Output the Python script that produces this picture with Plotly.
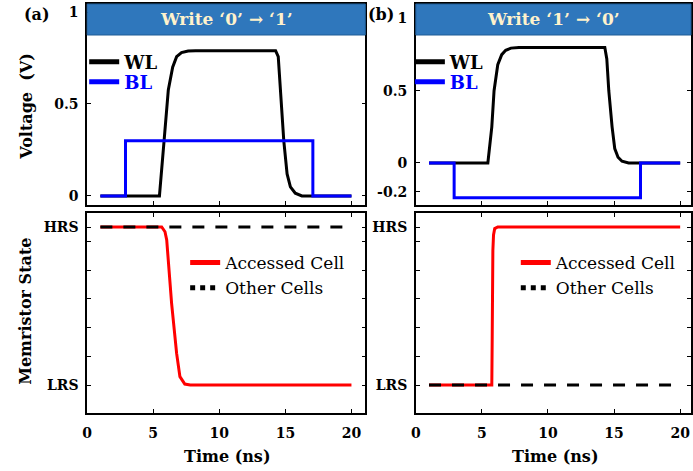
import plotly.graph_objects as go

# ---------------- data ----------------
# (a) Write '0' -> '1'
t_wl_a = [1.0, 5.47, 5.82, 6.14, 6.47, 6.77, 7.14, 7.64, 8.2, 14.26, 14.46, 14.63, 14.88, 15.13, 15.38, 15.75, 16.25, 20.0]
v_wl_a = [0.0, 0.0, 0.30, 0.576, 0.70, 0.757, 0.779, 0.788, 0.79, 0.79, 0.757, 0.576, 0.30, 0.12, 0.05, 0.015, 0.0, 0.0]
t_bl_a = [1.0, 2.9, 2.9, 17.08, 17.08, 20.0]
v_bl_a = [0.0, 0.0, 0.30, 0.30, 0.0, 0.0]

t_acc_a = [1.0, 5.64, 5.89, 6.02, 6.39, 6.77, 7.02, 7.39, 7.8, 20.0]
s_acc_a = [1.0, 1.0, 0.97, 0.918, 0.517, 0.20, 0.053, 0.006, 0.0, 0.0]
t_oth_a = [1.0, 20.0]
s_oth_a = [1.0, 1.0]

# (b) Write '1' -> '0'
t_wl_b = [1.0, 5.45, 5.75, 5.92, 6.2, 6.5, 6.8, 7.2, 7.8, 14.3, 14.45, 14.6, 14.85, 15.05, 15.3, 15.6, 16.1, 17.0, 20.0]
v_wl_b = [0.0, 0.0, 0.25, 0.50, 0.68, 0.75, 0.78, 0.795, 0.80, 0.80, 0.72, 0.50, 0.25, 0.10, 0.04, 0.012, 0.0, 0.0, 0.0]
t_bl_b = [1.0, 2.9, 2.9, 17.0, 17.0, 20.0]
v_bl_b = [0.0, 0.0, -0.24, -0.24, 0.0, 0.0]

t_acc_b = [1.0, 5.75, 5.78, 5.80, 5.83, 5.88, 5.97, 6.2, 20.0]
s_acc_b = [0.0, 0.0, 0.30, 0.60, 0.85, 0.95, 0.99, 1.0, 1.0]
t_oth_b = [1.0, 20.0]
s_oth_b = [0.0, 0.0]

x_ticks = [0, 5, 10, 15, 20]
v_ticks_a = [0, 0.5, 1]
v_ticks_b = [-0.2, 0, 0.5, 1]
state_ticks = [0, 0.182, 0.364, 0.545, 0.727, 0.909, 1]
state_labels = ["LRS", "", "", "", "", "", "HRS"]

titles = ["Write \u20180\u2019 \u2192 \u20181\u2019", "Write \u20181\u2019 \u2192 \u20180\u2019"]
panel_labels = ["(a)", "(b)"]

# ---------------- layout helpers ----------------
W, H = 693, 471
FONT = "DejaVu Serif"


def px_x(p):
    return p / W


def px_y(p):
    return 1 - p / H


colL = [px_x(83), px_x(364)]
colR = [px_x(415), 1.0]
rowT = [px_y(205), px_y(4)]
rowB = [px_y(413), px_y(213)]

BLUE = "#0000FF"
RED = "#FF0000"
LW = 3

fig = go.Figure()

# top-left
fig.add_trace(go.Scatter(x=t_wl_a, y=v_wl_a, mode="lines", line=dict(color="black", width=LW),
                         xaxis="x", yaxis="y", showlegend=False))
fig.add_trace(go.Scatter(x=t_bl_a, y=v_bl_a, mode="lines", line=dict(color=BLUE, width=LW),
                         xaxis="x", yaxis="y", showlegend=False))
# top-right
fig.add_trace(go.Scatter(x=t_wl_b, y=v_wl_b, mode="lines", line=dict(color="black", width=LW),
                         xaxis="x2", yaxis="y2", showlegend=False))
fig.add_trace(go.Scatter(x=t_bl_b, y=v_bl_b, mode="lines", line=dict(color=BLUE, width=LW),
                         xaxis="x2", yaxis="y2", showlegend=False))
# bottom-left
fig.add_trace(go.Scatter(x=t_acc_a, y=s_acc_a, mode="lines", line=dict(color=RED, width=LW),
                         xaxis="x3", yaxis="y3", showlegend=False))
fig.add_trace(go.Scatter(x=t_oth_a, y=s_oth_a, mode="lines", line=dict(color="black", width=LW, dash="12px,11px"),
                         xaxis="x3", yaxis="y3", showlegend=False))
# bottom-right
fig.add_trace(go.Scatter(x=t_acc_b, y=s_acc_b, mode="lines", line=dict(color=RED, width=LW),
                         xaxis="x4", yaxis="y4", showlegend=False))
fig.add_trace(go.Scatter(x=t_oth_b, y=s_oth_b, mode="lines", line=dict(color="black", width=LW, dash="12px,11px"),
                         xaxis="x4", yaxis="y4", showlegend=False))


# legend entries (legend-only traces)
def leg(name, color, legend, xa, ya, dash=None):
    fig.add_trace(go.Scatter(x=[None], y=[None], mode="lines", name=name,
                             line=dict(color=color, width=5, dash=dash),
                             xaxis=xa, yaxis=ya, legend=legend, showlegend=True))


leg("WL", "black", "legend", "x", "y")
leg("<span style='color:#0000FF'>BL</span>", BLUE, "legend5", "x", "y")
leg("WL", "black", "legend3", "x2", "y2")
leg("<span style='color:#0000FF'>BL</span>", BLUE, "legend6", "x2", "y2")
leg("Accessed Cell", RED, "legend2", "x3", "y3")
leg("Other Cells", "black", "legend2", "x3", "y3", dash="dot")
leg("Accessed Cell", RED, "legend4", "x4", "y4")
leg("Other Cells", "black", "legend4", "x4", "y4", dash="dot")

tickfont = dict(family=FONT, size=14, color="black", weight="bold")


def xax(domain, anchor, rng, labels):
    return dict(domain=domain, anchor=anchor, range=rng, tickvals=x_ticks,
                ticktext=[str(v) for v in x_ticks], showticklabels=labels,
                ticks="inside", ticklen=4, tickwidth=1.2, tickcolor="black",
                showline=True, linecolor="black", linewidth=1.5, mirror="ticks",
                showgrid=False, zeroline=False, tickfont=tickfont, ticklabelstandoff=6)


def yax(domain, anchor, rng, vals, text):
    return dict(domain=domain, anchor=anchor, range=rng, tickvals=vals, ticktext=text,
                ticks="inside", ticklen=4, tickwidth=1.2, tickcolor="black",
                showline=True, linecolor="black", linewidth=1.5, mirror="ticks",
                showgrid=False, zeroline=False, tickfont=tickfont, ticklabelstandoff=4)


legfont = dict(family=FONT, size=18, color="black", weight="bold")
legfont2 = dict(family=FONT, size=17, color="black")


def legbox(xp, yp, font):
    return dict(x=px_x(xp), y=px_y(yp), xanchor="left", yanchor="middle", bgcolor="rgba(0,0,0,0)",
                font=font, itemwidth=30, tracegroupgap=0)


fig.update_layout(
    width=W, height=H,
    margin=dict(l=0, r=0, t=0, b=0),
    paper_bgcolor="white", plot_bgcolor="white",
    hovermode=False,
    xaxis=xax(colL, "y", [0, 21.05], False),
    yaxis=yax(rowT, "x", [-0.049, 1.0435], v_ticks_a, ["0", "0.5", "1"]),
    xaxis2=xax(colR, "y2", [0, 20.82], False),
    yaxis2=yax(rowT, "x2", [-0.2907, 1.1003], v_ticks_b, ["-0.2", "0", "0.5", "1"]),
    xaxis3=xax(colL, "y3", [0, 21.05], True),
    yaxis3=yax(rowB, "x3", [-0.1772, 1.0886], state_ticks, state_labels),
    xaxis4=xax(colR, "y4", [0, 20.82], True),
    yaxis4=yax(rowB, "x4", [-0.1772, 1.0886], state_ticks, state_labels),
    legend=legbox(80, 62, legfont),
    legend5=legbox(80, 82, legfont),
    legend3=legbox(409, 62, legfont),
    legend6=legbox(409, 82, legfont),
    legend2=dict(x=px_x(182), y=px_y(275.5), xanchor="left", yanchor="middle", bgcolor="rgba(0,0,0,0)",
                 font=legfont2, itemwidth=30, tracegroupgap=0),
    legend4=dict(x=px_x(516), y=px_y(275.5), xanchor="left", yanchor="middle", bgcolor="rgba(0,0,0,0)",
                 font=legfont2, itemwidth=30, tracegroupgap=0),
)

# header bars
shapes = []
annotations = []
for i, xa in enumerate(["x", "x2"]):
    shapes.append(dict(type="rect", xref=f"{xa} domain", yref="paper", x0=0, x1=1,
                       y0=px_y(35), y1=px_y(4), fillcolor="#2F77BC",
                       line=dict(color="#1F5C96", width=1), layer="above"))
    annotations.append(dict(xref=f"{xa} domain", yref="paper", x=0.5, y=px_y(19.5),
                            text=titles[i], showarrow=False, xanchor="center", yanchor="middle",
                            font=dict(family=FONT, size=17, color="#FFF2CC", weight="bold")))

# panel labels
annotations.append(dict(xref="paper", yref="paper", x=px_x(32), y=px_y(15), text=panel_labels[0],
                        showarrow=False, xanchor="center", yanchor="middle",
                        font=dict(family=FONT, size=16, color="black", weight="bold")))
annotations.append(dict(xref="paper", yref="paper", x=px_x(380), y=px_y(15), text=panel_labels[1],
                        showarrow=False, xanchor="center", yanchor="middle",
                        font=dict(family=FONT, size=16, color="black", weight="bold")))

titlefont = dict(family=FONT, size=16, color="black", weight="bold")
annotations.append(dict(xref="paper", yref="paper", x=px_x(22), y=px_y(106), text="Voltage  (V)",
                        textangle=-90, showarrow=False, xanchor="center", yanchor="middle", font=titlefont))
annotations.append(dict(xref="paper", yref="paper", x=px_x(20), y=px_y(311), text="Memristor State",
                        textangle=-90, showarrow=False, xanchor="center", yanchor="middle", font=titlefont))
annotations.append(dict(xref="paper", yref="paper", x=px_x(224), y=px_y(456), text="Time (ns)",
                        showarrow=False, xanchor="center", yanchor="middle", font=titlefont))
annotations.append(dict(xref="paper", yref="paper", x=px_x(556), y=px_y(456), text="Time (ns)",
                        showarrow=False, xanchor="center", yanchor="middle", font=titlefont))

fig.update_layout(shapes=shapes, annotations=annotations)

fig.write_html("out.html", config={"displayModeBar": False},
               post_script="document.body.style.margin='0';document.body.style.overflow='hidden';")
